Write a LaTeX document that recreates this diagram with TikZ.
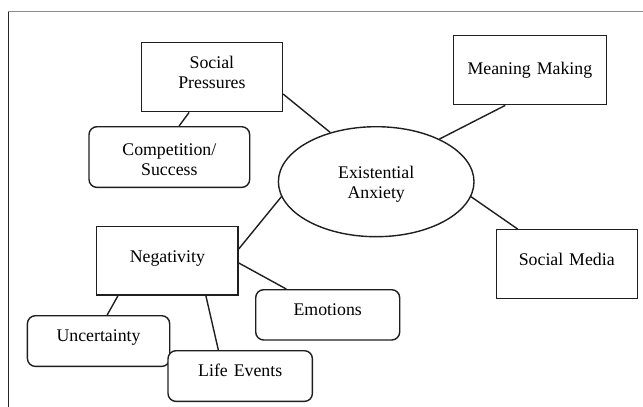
\documentclass[tikz,border=0pt]{standalone}
\usepackage{fontspec}
\setmainfont{Liberation Serif}
\usetikzlibrary{calc,shapes.geometric}
\newcommand{\diagfont}{\fontsize{17.8}{20}\selectfont}
\tikzset{
  boxbase/.style={draw=black!88, line width=1.4pt, fill=white, inner sep=0pt,
    align=center, font=\diagfont, anchor=north west},
  sqbox/.style={boxbase},
  rbox/.style={boxbase, rounded corners=8pt},
  link/.style={draw=black!88, line width=1.4pt},
  frameline/.style={line width=1pt}
}
\begin{document}
\begin{tikzpicture}[x=1pt,y=-1pt]
\useasboundingbox (0,0) rectangle (643,407);
\fill[white] (0,0) rectangle (643,407);
\draw[frameline, draw=black!45] (8,11.7) -- (643,11.7);
\draw[frameline, draw=black!85] (8,11.7) -- (8,407);

\node[sqbox, text width=141pt, text height=25.6pt, text depth=43.7pt] (sp) at (140.7,41.7) {Social\\Pressures};
\node[rbox, text width=160.7pt, text height=29pt, text depth=31.7pt] (cs) at (88.3,126) {Competition/\\Success};
\node[sqbox, text width=153pt, text height=38.3pt, text depth=30.7pt] (mm) at (452.7,35) {Meaning Making};
\node[ellipse, draw=black!88, line width=1.4pt, fill=white, inner sep=0pt, align=center, font=\diagfont,
  minimum width=195.6pt, minimum height=110pt, text width=100pt, text height=5pt, text depth=11.8pt] (ea) at (376.2,181.7) {Existential\\Anxiety};
\node[sqbox, text width=141.3pt, text height=35.7pt, text depth=32.6pt] (ng) at (96,226) {Negativity};
\node[sqbox, text width=141.1pt, text height=36pt, text depth=32.7pt] (sm) at (495.5,229) {Social Media};
\node[rbox, text width=144pt, text height=25.3pt, text depth=25pt] (em) at (255,289) {Emotions};
\node[rbox, text width=142.3pt, text height=26pt, text depth=24.7pt] (un) at (26.7,315) {Uncertainty};
\node[rbox, text width=144.4pt, text height=25.7pt, text depth=25pt] (le) at (167.3,350) {Life Events};

\draw[link] ($(sp.north east)!0.74!(sp.south east)$) -- (ea.133.3);
\draw[link] ($(sp.south west)!0.34!(sp.south east)$) -- ($(cs.north west)!0.56!(cs.north east)$);
\draw[link] ($(mm.south west)!0.34!(mm.south east)$) -- (ea.34.3);
\draw[link] (ea.-9.6) -- ($(sm.north west)!0.155!(sm.north east)$);
\draw[link] (ea.189.6) -- ($(ng.north east)!0.33!(ng.south east)$);
\draw[link] ($(ng.north east)!0.53!(ng.south east)$) -- ($(em.north west)!0.215!(em.north east)$);
\draw[link] ($(ng.south west)!0.154!(ng.south east)$) -- ($(un.north west)!0.56!(un.north east)$);
\draw[link] ($(ng.south west)!0.77!(ng.south east)$) -- ($(le.north west)!0.35!(le.north east)$);
\end{tikzpicture}
\end{document}
